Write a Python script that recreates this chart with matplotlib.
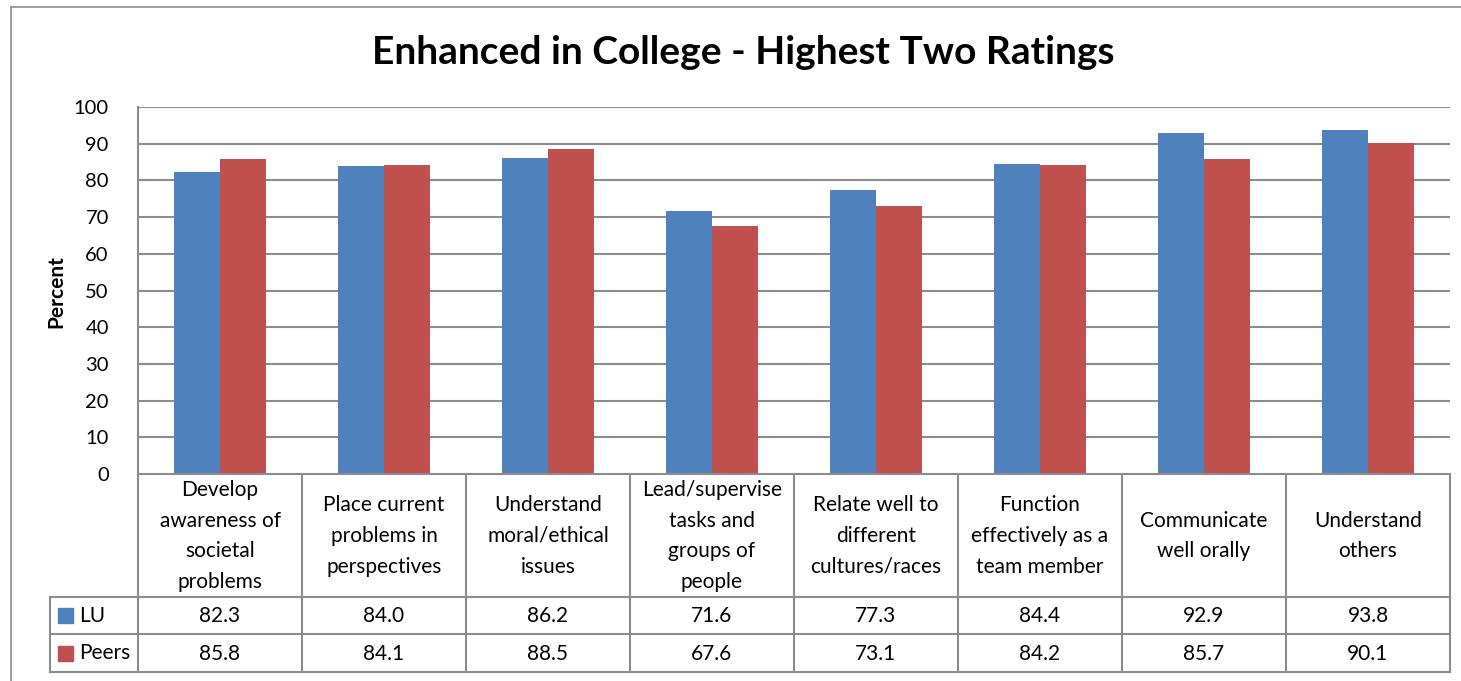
import matplotlib
matplotlib.use("Agg")
import matplotlib.pyplot as plt
from matplotlib.lines import Line2D
import numpy as np

plt.rcParams['font.family'] = ['Lato', 'DejaVu Sans']

categories = ["Develop\nawareness of\nsocietal\nproblems",
              "Place current\nproblems in\nperspectives",
              "Understand\nmoral/ethical\nissues",
              "Lead/supervise\ntasks and\ngroups of\npeople",
              "Relate well to\ndifferent\ncultures/races",
              "Function\neffectively as a\nteam member",
              "Communicate\nwell orally",
              "Understand\nothers"]
lu = [82.3, 84.0, 86.2, 71.6, 77.3, 84.4, 92.9, 93.8]
peers = [85.8, 84.1, 88.5, 67.6, 73.1, 84.2, 85.7, 90.1]
series_names = ["LU", "Peers"]
yticks = [0, 10, 20, 30, 40, 50, 60, 70, 80, 90, 100]

blue = '#4F81BD'
red = '#C0504D'
grid_col = '#8C8C8C'

W, H = 1461, 681
fig = plt.figure(figsize=(W / 100, H / 100), dpi=100)

def px(l, t, r, b):
    return [l / W, (H - b) / H, (r - l) / W, (b - t) / H]

# outer chart frame (cut on right/bottom)
fig.add_artist(Line2D([11 / W, 1.0], [1 - 7 / H, 1 - 7 / H], color='#8C8C8C', lw=1.2))
fig.add_artist(Line2D([11 / W, 11 / W], [0, 1 - 7 / H], color='#8C8C8C', lw=1.2))

ax = fig.add_axes(px(138, 107, 1450, 474))
x = np.arange(len(lu))
bw = 0.283
ax.bar(x - bw / 2, lu, bw, color=blue, zorder=3)
ax.bar(x + bw / 2, peers, bw, color=red, zorder=3)
ax.set_xlim(-0.5, 7.5)
ax.set_ylim(0, 100)
ax.set_yticks(yticks)
ax.tick_params(axis='y', length=0, pad=21, labelsize=14.5)
ax.set_xticks([])
for y in yticks[1:]:
    ax.axhline(y, color=grid_col, lw=1.5, zorder=1)
for s in ['top', 'right', 'bottom']:
    ax.spines[s].set_visible(False)
ax.spines['left'].set_color(grid_col)
ax.spines['left'].set_linewidth(1.5)
ax.set_ylabel("Percent", fontsize=15, fontweight='bold')
ax.yaxis.set_label_coords((66 - 138) / 1312, (474 - 292) / 367)

fig.text(743 / W, 1 - 52 / H, "Enhanced in College - Highest Two Ratings",
         ha='center', va='center', fontsize=28, fontweight='bold')

# data table below the plot
tx = fig.add_axes(px(50, 474, 1450, 672))
left = -0.5 - 88 / 164
tx.set_xlim(left, 7.5)
tx.set_ylim(198, 0)
tx.axis('off')
lk = dict(color=grid_col, lw=1.5, clip_on=False)
tx.plot([-0.5, 7.5], [0, 0], **lk)
for yy in [123, 160, 198]:
    tx.plot([left, 7.5], [yy, yy], **lk)
tx.plot([left, left], [123, 198], **lk)
for xx in np.arange(-0.5, 8, 1):
    tx.plot([xx, xx], [0, 198], **lk)

for i, c in enumerate(categories):
    tx.text(i, 62, c, ha='center', va='center', fontsize=15, linespacing=1.68)
    tx.text(i, 142, f"{lu[i]:.1f}", ha='center', va='center', fontsize=15)
    tx.text(i, 179.5, f"{peers[i]:.1f}", ha='center', va='center', fontsize=15)

for j, (name, col) in enumerate(zip(series_names, [blue, red])):
    yc = 141.5 + j * 37.5
    tx.add_patch(plt.Rectangle((left + 8 / 164, yc - 7.5), 15 / 164, 15, color=col))
    tx.text(left + 29 / 164, yc, name, ha='left', va='center', fontsize=15)

fig.savefig("out.png", dpi=100)
